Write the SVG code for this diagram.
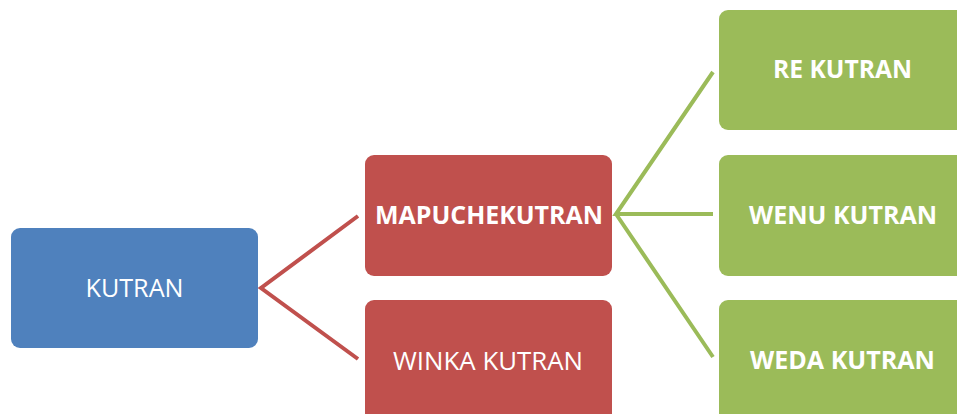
<svg xmlns="http://www.w3.org/2000/svg" width="957" height="414" viewBox="0 0 957 414">
  <style>
    .box { stroke: none; }
    .root { fill: #4F81BD; }
    .mid { fill: #C0504D; }
    .leaf { fill: #9BBB59; }
    .lbl { font-family: "Open Sans", "Noto Sans", sans-serif; font-size: 25px; fill: #FFFFFF; text-anchor: middle; }
    .b { font-weight: bold; }
    .red { stroke: #C0504D; stroke-width: 4; fill: none; }
    .green { stroke: #9BBB59; stroke-width: 4; fill: none; }
  </style>
  <rect width="957" height="414" fill="#FFFFFF"/>

  <g id="connectors">
    <polyline class="red" points="358,216 261,288 358,359"/>
    <path class="green" d="M713,72 L616,214 L713,214 M616,214 L713,357"/>
  </g>

  <g id="kutran">
    <rect class="box root" x="11" y="228" width="247" height="120" rx="9"/>
    <text class="lbl" x="134.5" y="297" textLength="98" lengthAdjust="spacingAndGlyphs">KUTRAN</text>
  </g>

  <g id="mapuchekutran">
    <rect class="box mid" x="365" y="155" width="247" height="121" rx="9"/>
    <text class="lbl b" x="489" y="224" textLength="228" lengthAdjust="spacingAndGlyphs">MAPUCHEKUTRAN</text>
  </g>

  <g id="winka-kutran">
    <rect class="box mid" x="365" y="300" width="247" height="124" rx="9"/>
    <text class="lbl" x="488" y="370" textLength="190" lengthAdjust="spacingAndGlyphs">WINKA KUTRAN</text>
  </g>

  <g id="re-kutran">
    <rect class="box leaf" x="719" y="10" width="247" height="120" rx="9"/>
    <text class="lbl b" x="842.5" y="78" textLength="139" lengthAdjust="spacingAndGlyphs">RE KUTRAN</text>
  </g>

  <g id="wenu-kutran">
    <rect class="box leaf" x="719" y="155" width="247" height="121" rx="9"/>
    <text class="lbl b" x="843" y="224" textLength="188" lengthAdjust="spacingAndGlyphs">WENU KUTRAN</text>
  </g>

  <g id="weda-kutran">
    <rect class="box leaf" x="719" y="300" width="247" height="124" rx="9"/>
    <text class="lbl b" x="842.5" y="369" textLength="185" lengthAdjust="spacingAndGlyphs">WEDA KUTRAN</text>
  </g>
</svg>
